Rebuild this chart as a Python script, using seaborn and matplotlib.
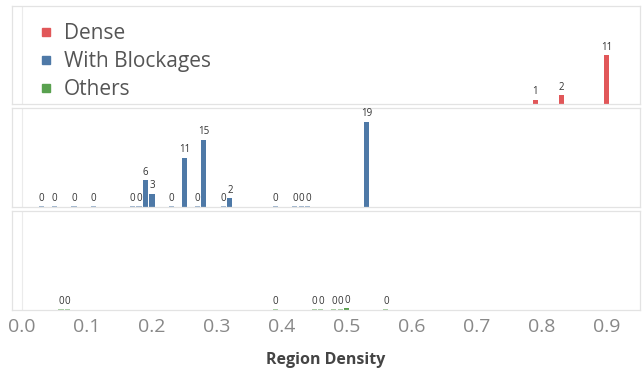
import matplotlib
matplotlib.use("Agg")
import matplotlib.pyplot as plt
from matplotlib.lines import Line2D
import seaborn as sns
import pandas as pd

# Values
dense_x = [0.79, 0.83, 0.90]
dense_n = [1, 2, 11]

block_x = [0.03, 0.05, 0.08, 0.11, 0.17, 0.18, 0.19, 0.20, 0.23, 0.25,
           0.27, 0.28, 0.31, 0.32, 0.39, 0.42, 0.43, 0.44, 0.53]
block_n = [0, 0, 0, 0, 0, 0, 6, 3, 0, 11, 0, 15, 0, 2, 0, 0, 0, 0, 19]

other_x = [0.06, 0.07, 0.39, 0.45, 0.46, 0.48, 0.49, 0.50, 0.56]
other_n = [0, 0, 0, 0, 0, 0, 0, 0.4, 0]

series = [("Dense", dense_x, dense_n, "#e15759"),
          ("With Blockages", block_x, block_n, "#4e79a7"),
          ("Others", other_x, other_n, "#59a14f")]

sns.set_theme(style="white")
plt.rcParams["font.family"] = ["Open Sans", "DejaVu Sans"]

fig = plt.figure(figsize=(6.44, 3.75), dpi=100)
W, H = 644, 375
left, right = 12, 640
panels = [(6, 104), (108, 207), (211, 310)]

bar_w = 0.0078  # in data units (~5 px)
axes = []
for (name, xs, ns, col), (top, bot) in zip(series, panels):
    ax = fig.add_axes([left / W, 1 - bot / H, (right - left) / W, (bot - top) / H])
    df = pd.DataFrame({"x": xs, "n": ns})
    df["h"] = df["n"].clip(lower=0.25)  # zero bars still show as a thin line
    sns.barplot(data=df, x="x", y="h", native_scale=True, color=col,
                saturation=1, ax=ax)
    for p, xv, nv in zip(ax.patches, df["x"], df["n"]):
        p.set_x(xv - bar_w / 2)
        p.set_width(bar_w)
        p.set_linewidth(0)
        if nv == 0:
            p.set_alpha(0.55)
    labels = [str(int(round(v))) for v in df["n"]]
    ax.bar_label(ax.containers[0], labels=labels, fontsize=7,
                 color="#333333", padding=1.5)
    ax.set_xlim(-0.0154, 0.951)
    ax.set_ylim(0, 22)
    ax.axvline(0, color="#ebebeb", lw=0.8, zorder=0)
    ax.set_xlabel("")
    ax.set_ylabel("")
    ax.set_yticks([])
    for s in ax.spines.values():
        s.set_color("#e3e3e3")
        s.set_linewidth(0.9)
    ax.tick_params(axis="x", length=0)
    axes.append(ax)

for ax in axes[:-1]:
    ax.set_xticks([])

ticks = [i / 10 for i in range(10)]
axes[-1].set_xticks(ticks)
axes[-1].set_xticklabels([f"{t:.1f}" for t in ticks], fontsize=14, color="#888888")
axes[-1].tick_params(axis="x", pad=6)
axes[-1].set_xlabel("Region Density", fontsize=11.5, fontweight="bold",
                    color="#444444", labelpad=11)

handles = [Line2D([], [], marker="s", linestyle="", color=c, markersize=6)
           for _, _, _, c in series]
axes[0].legend(handles, [s[0] for s in series], loc="upper left",
               bbox_to_anchor=(0.025, 0.91), frameon=False, fontsize=15,
               handletextpad=0.35, handlelength=1.0, labelspacing=0.33,
               labelcolor="#555555", borderaxespad=0)

fig.savefig("out.png", dpi=100)
